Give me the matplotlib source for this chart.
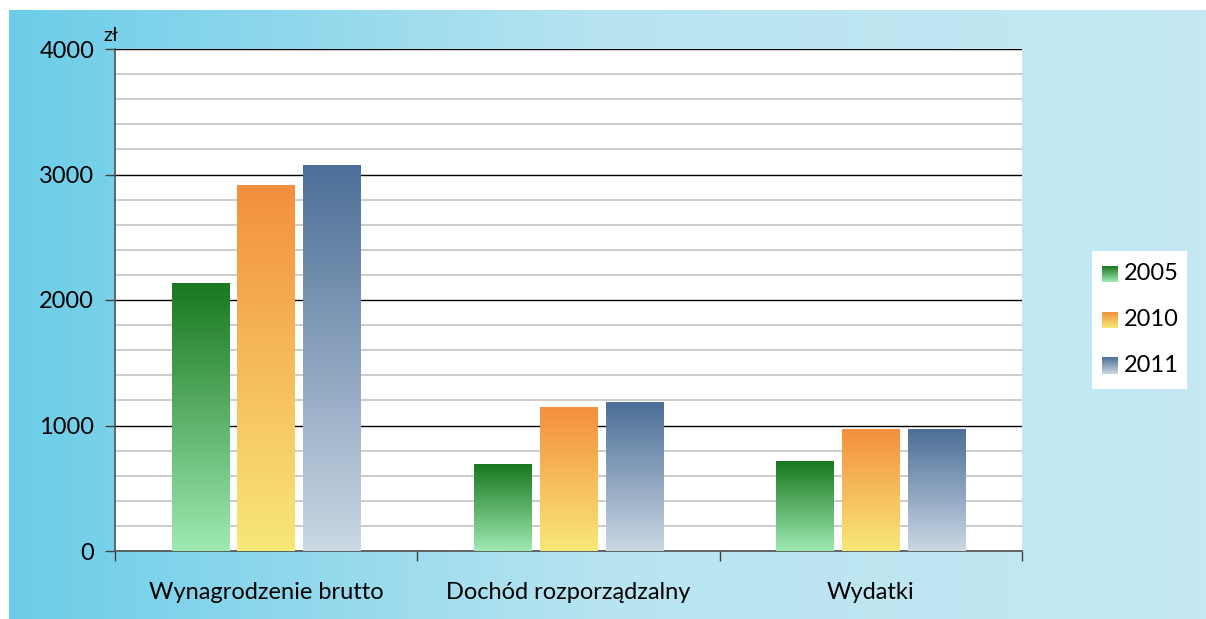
"""Wynagrodzenie, dochód i wydatki - grouped bars with gradient fill."""
import numpy as np
import matplotlib
matplotlib.use("Agg")
import matplotlib.pyplot as plt
from matplotlib.colors import LinearSegmentedColormap

categories = ["Wynagrodzenie brutto", "Dochód rozporządzalny", "Wydatki"]
years = ["2005", "2010", "2011"]
v2005 = [2135, 687, 715]
v2010 = [2916, 1147, 972]
v2011 = [3068, 1187, 972]

# (top colour, bottom colour) per series
grads = [("#18781f", "#9fe9b2"), ("#f38f3e", "#f8e878"), ("#4c6e97", "#cbd8e4")]

plt.rcParams["font.family"] = ["Lato", "DejaVu Sans"]

fig = plt.figure(figsize=(12.06, 6.19), dpi=100)

# light-blue panel behind the chart
bg = fig.add_axes([9 / 1206, 0, 1 - 9 / 1206, 609 / 619], zorder=-10)
bg_cmap = LinearSegmentedColormap.from_list("bg", ["#6ccde8", "#b8e4f1", "#c4e9f3"])
bg.imshow(np.linspace(0, 1, 256)[None, :], cmap=bg_cmap, aspect="auto",
          extent=[0, 1, 0, 1])
bg.set_axis_off()

ax = fig.add_axes([115 / 1206, 68 / 619, 907 / 1206, 502 / 619])
ax.set_facecolor("white")

x = np.arange(len(categories))
width, step = 0.19, 0.218
series = [v2005, v2010, v2011]
for i, vals in enumerate(series):
    top, bottom = grads[i]
    cmap = LinearSegmentedColormap.from_list(f"g{i}", [bottom, top])
    bars = ax.bar(x + (i - 1) * step, vals, width, color="none", zorder=3)
    for b in bars:
        x0, w, h = b.get_x(), b.get_width(), b.get_height()
        ax.imshow(np.linspace(0, 1, 256)[:, None], cmap=cmap, origin="lower",
                  aspect="auto", extent=[x0, x0 + w, 0, h], zorder=3)

ax.set_xlim(-0.5, 2.5)
ax.set_ylim(0, 4000)
ax.set_yticks(np.arange(0, 4001, 1000))
ax.set_yticks(np.arange(0, 4001, 200), minor=True)
ax.grid(axis="y", which="minor", color="#c8c8c8", lw=1.3, zorder=1)
ax.grid(axis="y", which="major", color="black", lw=1.0, zorder=2)
ax.tick_params(axis="y", which="minor", length=0)
ax.tick_params(axis="y", which="major", length=7, width=1, color="#404040",
               labelsize=17, pad=8)

ax.set_xticks([-0.5, 0.5, 1.5, 2.5])
ax.set_xticklabels([])
ax.set_xticks(x, minor=True)
ax.set_xticklabels(categories, minor=True)
ax.tick_params(axis="x", which="major", length=7, width=1, color="#404040")
ax.tick_params(axis="x", which="minor", length=0, labelsize=17, pad=22)

for s in ("top", "right"):
    ax.spines[s].set_visible(False)
for s in ("left", "bottom"):
    ax.spines[s].set_color("#505050")
    ax.spines[s].set_linewidth(1.2)

ax.text(0.004, 1.01, "zł", transform=ax.transAxes, ha="right", va="bottom",
        fontsize=14)

# legend box with gradient swatches
lg = fig.add_axes([1092 / 1206, (619 - 389) / 619, 95 / 1206, 138 / 619])
lg.set_facecolor("white")
lg.set_xticks([])
lg.set_yticks([])
for s in lg.spines.values():
    s.set_visible(False)
for i, yr in enumerate(years):
    top, bottom = grads[i]
    cmap = LinearSegmentedColormap.from_list(f"l{i}", [bottom, top])
    yc = 23 + i * 46
    lg.imshow(np.linspace(0, 1, 64)[:, None], cmap=cmap, origin="lower",
              aspect="auto", extent=[10, 26, yc + 8, yc - 8])
    lg.text(32, yc, yr, va="center", ha="left", fontsize=17)
lg.set_xlim(0, 95)
lg.set_ylim(138, 0)

fig.savefig("out.png", dpi=100)
